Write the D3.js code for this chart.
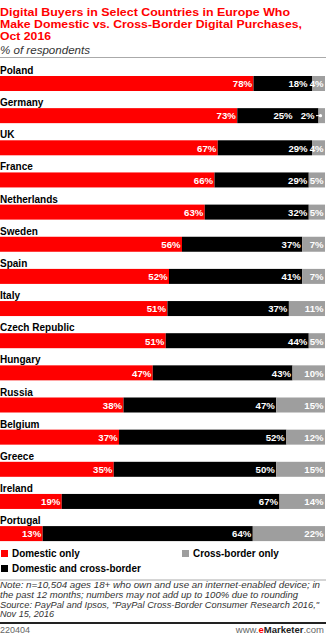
<!DOCTYPE html>
<html>
<head>
<meta charset="utf-8">
<script src="https://cdn.jsdelivr.net/npm/d3@7/dist/d3.min.js"></script>
<style>
  html, body { margin: 0; padding: 0; background: #fff; }
  svg { display: block; }
  text { font-family: "Liberation Sans", Arial, sans-serif; }
</style>
</head>
<body>
<script>
// Share of digital buyers by type of purchase, per country (% of respondents)
const countries = ["Poland", "Germany", "UK", "France", "Netherlands", "Sweden", "Spain", "Italy",
  "Czech Republic", "Hungary", "Russia", "Belgium", "Greece", "Ireland", "Portugal"];
const domesticOnly =       [78, 73, 67, 66, 63, 56, 52, 51, 51, 47, 38, 37, 35, 19, 13];
const domesticAndCross =   [18, 25, 29, 29, 32, 37, 41, 37, 44, 43, 47, 52, 50, 67, 64];
const crossBorderOnly =    [ 4,  2,  4,  5,  5,  7,  7, 11,  5, 10, 15, 12, 15, 14, 22];
const seriesNames = ["Domestic only", "Domestic and cross-border", "Cross-border only"];
const seriesColors = ["#ff0000", "#000000", "#9e9e9e"];

const titleLines = ["Digital Buyers in Select Countries in Europe Who",
  "Make Domestic vs. Cross-Border Digital Purchases,", "Oct 2016"];
const subtitle = "% of respondents";
const noteLines = [
  "Note: n=10,504 ages 18+ who own and use an internet-enabled device; in",
  "the past 12 months; numbers may not add up to 100% due to rounding",
  "Source: PayPal and Ipsos, \"PayPal Cross-Border Consumer Research 2016,\"",
  "Nov 15, 2016"
];
const chartId = "220404";

const W = 326, H = 635;
const svg = d3.select("body").append("svg").attr("width", W).attr("height", H);

// Pick a narrow bold face for value labels if one is installed
const REGULAR = '"Liberation Sans", Arial, sans-serif';
const NARROW = '"Liberation Sans Narrow", "Arial Narrow", "Liberation Sans", sans-serif';
function measure(fam) {
  const t = svg.append("text").attr("font-family", fam).attr("font-weight", "bold")
    .attr("font-size", 11).text("Czech Republic");
  const w = t.node().getComputedTextLength();
  t.remove();
  return w;
}
const hasNarrow = measure(NARROW) < measure(REGULAR) * 0.9;
const labelFont = hasNarrow ? NARROW : REGULAR;

// Squeeze a text to a share of its natural width
function squeeze(sel, f) {
  sel.each(function () {
    const w = this.getComputedTextLength();
    d3.select(this).attr("textLength", w * f).attr("lengthAdjust", "spacingAndGlyphs");
  });
}

// Title
const titleWidths = [290, 302, 51];
titleLines.forEach((t, i) => {
  svg.append("text")
    .attr("x", 0).attr("y", 15.5 + i * 12.3)
    .attr("fill", "#ff0000").attr("font-weight", "bold").attr("font-size", 11.2)
    .attr("textLength", titleWidths[i]).attr("lengthAdjust", "spacingAndGlyphs")
    .text(t);
});
svg.append("text")
  .attr("x", 0).attr("y", 53.5)
  .attr("fill", "#333").attr("font-style", "italic").attr("font-size", 11.5)
  .attr("textLength", 90).attr("lengthAdjust", "spacingAndGlyphs")
  .text(subtitle);
svg.append("line").attr("x1", 0).attr("x2", W).attr("y1", 57.5).attr("y2", 57.5)
  .attr("stroke", "#aaa").attr("stroke-width", 1);

// Data table and stacking, normalised per country
const rows = countries.map((c, i) => ({
  country: c,
  [seriesNames[0]]: domesticOnly[i],
  [seriesNames[1]]: domesticAndCross[i],
  [seriesNames[2]]: crossBorderOnly[i]
}));
const stack = d3.stack().keys(seriesNames).offset(d3.stackOffsetExpand);
const layers = stack(rows);

const x = d3.scaleLinear().domain([0, 1]).range([0, 325]);
const y = d3.scaleBand().domain(countries).range([60, 60 + 15 * 32.15]);
const barOffset = 16, barH = 15;

const color = d3.scaleOrdinal().domain(seriesNames).range(seriesColors);

// Country labels
svg.append("g").selectAll("text").data(countries).join("text")
  .attr("x", 0).attr("y", d => y(d) + 14)
  .attr("font-weight", "bold").attr("font-size", 11).attr("fill", "#000")
  .text(d => d)
  .call(squeeze, 0.91);

// Bars
const gLayers = svg.append("g").selectAll("g").data(layers).join("g")
  .attr("fill", d => color(d.key));
gLayers.selectAll("rect").data(d => d).join("rect")
  .attr("x", d => x(d[0]))
  .attr("y", d => y(d.data.country) + barOffset)
  .attr("width", d => x(d[1]) - x(d[0]))
  .attr("height", barH);

// Value labels, right-aligned in each segment
const labelG = svg.append("g")
  .attr("font-family", labelFont)
  .attr("font-weight", "bold").attr("font-size", hasNarrow ? 11 : 9.6).attr("fill", "#fff");
rows.forEach((r, ri) => {
  const cy = y(r.country) + barOffset;
  let limit = Infinity; // left edge of the label placed just to the right
  // walk right to left so labels never run into their right-hand neighbour
  for (let k = layers.length - 1; k >= 0; k--) {
    const seg = layers[k][ri];
    const x0 = x(seg[0]), x1 = x(seg[1]);
    const label = r[layers[k].key] + "%";
    const t = labelG.append("text")
      .attr("y", cy + 11.3).attr("text-anchor", "end").text(label);
    const tw = t.node().getComputedTextLength();
    let right;
    if (x1 - x0 < 10) {
      // too narrow: put label in the segment to the left with a leader
      right = x0 - 4;
      labelG.append("line")
        .attr("x1", x0 - 2.5).attr("x2", x0 + 2)
        .attr("y1", cy + 7.5).attr("y2", cy + 7.5)
        .attr("stroke", "#fff").attr("stroke-width", 1);
      labelG.append("circle").attr("cx", x0 + 2).attr("cy", cy + 7.5).attr("r", 1.6);
      limit = right - tw - 6;
    } else {
      right = Math.min(x1 - 1.5, limit - 2);
      limit = right - tw;
    }
    t.attr("x", right);
  }
});

// Legend
const legendItems = [
  { name: seriesNames[0], lx: 1, ly: 550 },
  { name: seriesNames[2], lx: 182, ly: 550 },
  { name: seriesNames[1], lx: 1, ly: 565 }
];
const lg = svg.append("g").selectAll("g").data(legendItems).join("g")
  .attr("transform", d => `translate(${d.lx},${d.ly})`);
lg.append("rect").attr("width", 7).attr("height", 7).attr("fill", d => color(d.name));
lg.append("text").attr("x", 11).attr("y", 7)
  .attr("font-weight", "bold").attr("font-size", 11).attr("fill", "#000")
  .text(d => d.name)
  .call(squeeze, 0.9);

// Notes
const noteWidths = [320, 298, 319, 54];
svg.append("line").attr("x1", 0).attr("x2", W).attr("y1", 580).attr("y2", 580)
  .attr("stroke", "#aaa").attr("stroke-width", 1);
noteLines.forEach((t, i) => {
  svg.append("text")
    .attr("x", 0).attr("y", 588 + i * 9.8)
    .attr("font-style", "italic").attr("font-size", 9.4).attr("fill", "#333")
    .attr("textLength", noteWidths[i]).attr("lengthAdjust", "spacingAndGlyphs")
    .text(t);
});
svg.append("line").attr("x1", 0).attr("x2", W).attr("y1", 623).attr("y2", 623)
  .attr("stroke", "#222").attr("stroke-width", 2);
svg.append("text").attr("x", 0).attr("y", 632.5)
  .attr("font-size", 9).attr("fill", "#666").text(chartId);
const brand = svg.append("text").attr("x", 324).attr("y", 632.5)
  .attr("text-anchor", "end").attr("font-size", 9.5);
brand.append("tspan").attr("fill", "#666").text("www.");
brand.append("tspan").attr("fill", "#ff0000").attr("font-weight", "bold").text("e");
brand.append("tspan").attr("fill", "#222").attr("font-weight", "bold").text("Marketer");
brand.append("tspan").attr("fill", "#666").text(".com");
</script>
</body>
</html>
